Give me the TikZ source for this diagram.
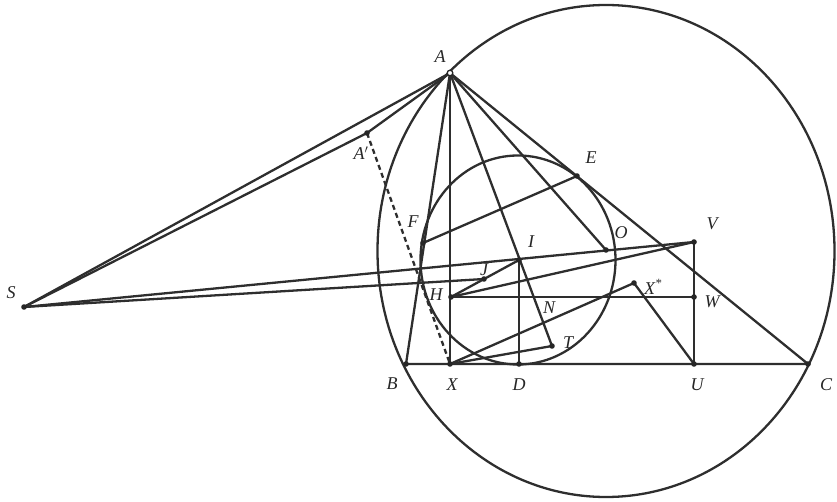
\documentclass[tikz,border=0pt]{standalone}
\usepackage{fontspec}
\setmainfont{Liberation Serif}
\begin{document}
\begin{tikzpicture}[x=1pt,y=-1pt,
  ln/.style={line width=2.3pt, line cap=round, line join=round, color=black!82},
  dsh/.style={line width=2.3pt, dash pattern=on 5pt off 3.5pt, color=black!82},
  pt/.style={fill=black!85},
  lab/.style={font=\fontsize{18}{18}\selectfont\itshape, inner sep=0pt, text=black!85}]
\useasboundingbox (0,0) rectangle (837,502);
% points
\coordinate (A) at (450,73);
\coordinate (B) at (406,364);
\coordinate (C) at (808,364);
\coordinate (X) at (450,364);
\coordinate (D) at (519,364);
\coordinate (U) at (694,364);
\coordinate (S) at (24,307);
\coordinate (Ap) at (367,133);
\coordinate (E) at (577,176);
\coordinate (F) at (423,243);
\coordinate (O) at (606,250);
\coordinate (I) at (519,260);
\coordinate (J) at (484,279);
\coordinate (H) at (451,297);
\coordinate (V) at (694,242);
\coordinate (W) at (694,297);
\coordinate (Xs) at (634,283);
\coordinate (T) at (552,346);
\coordinate (N) at (543,325);
% circles
\draw[ln] (606,251) ellipse [x radius=228.5, y radius=246];
\draw[ln] (518,260) ellipse [x radius=97.5, y radius=104.5];
% triangle and lines
\draw[ln] (A) -- (B) -- (C) -- cycle;
\draw[ln] (A) -- (X);
\draw[ln] (S) -- (A);
\draw[ln] (S) -- (Ap) -- (A);
\draw[ln] (S) -- (V);
\draw[ln] (S) -- (J);
\draw[ln] (A) -- (T);
\draw[ln] (A) -- (O);
\draw[ln] (F) -- (E);
\draw[ln] (I) -- (D);
\draw[ln] (H) -- (I);
\draw[ln] (H) -- (V);
\draw[ln] (H) -- (W);
\draw[ln] (V) -- (U);
\draw[ln] (X) -- (T);
\draw[ln] (X) -- (Xs) -- (U);
\draw[dsh] (Ap) -- (X);
% dots
\foreach \p in {S,Ap,E,F,O,I,J,H,V,W,Xs,T,B,X,D,U,C}
  \fill[pt] (\p) circle (2.8);
\filldraw[fill=white, draw=black!85, line width=1.3pt] (A) circle (2.8);
% labels
\node[lab] (lA) at (440,57) {A};
\node[lab] (lAp) at (361,153) {A$'$};
\node[lab] (lS) at (11,293) {S};
\node[lab] (lE) at (591,158) {E};
\node[lab] (lF) at (413,222) {F};
\node[lab] (lI) at (531,242) {I};
\node[lab] (lO) at (621,233) {O};
\node[lab] (lV) at (712,224) {V};
\node[lab] (lJ) at (484,270) {J};
\node[lab] (lH) at (436,295) {H};
\node[lab] (lN) at (549,308) {N};
\node[lab] (lT) at (568,343) {T};
\node[lab] (lXs) at (653,287) {X\textsuperscript{*}};
\node[lab] (lW) at (712,302) {W};
\node[lab] (lB) at (392,384) {B};
\node[lab] (lX) at (452,385) {X};
\node[lab] (lD) at (519,385) {D};
\node[lab] (lU) at (697,385) {U};
\node[lab] (lC) at (826,385) {C};
\end{tikzpicture}
\end{document}
